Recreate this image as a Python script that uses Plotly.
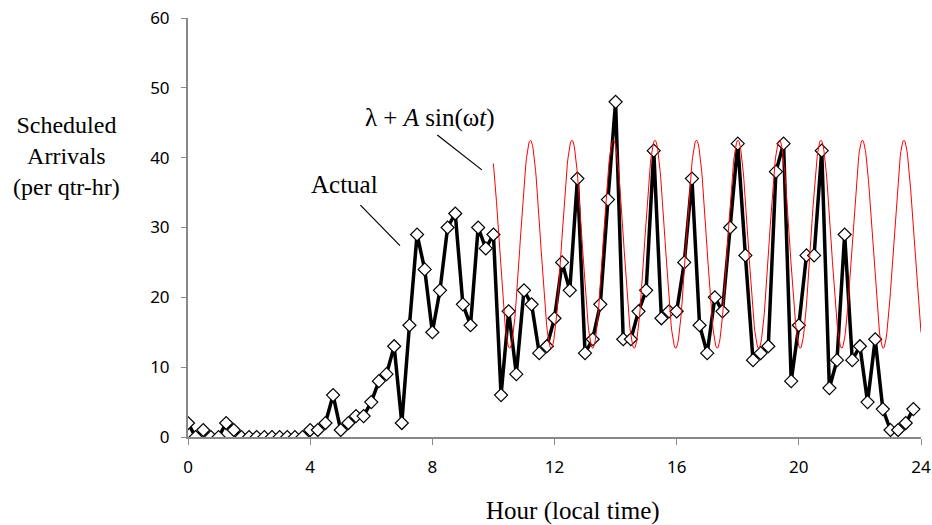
import numpy as np
import plotly.graph_objects as go

# Actual scheduled arrivals per quarter hour (t = 0, 0.25, ..., 23.75)
hours = [i * 0.25 for i in range(96)]
actual = [2, 0, 1, 0, 0, 2, 1, 0, 0, 0, 0, 0, 0, 0, 0, 0,
          1, 1, 2, 6, 1, 2, 3, 3, 5, 8, 9, 13, 2, 16, 29, 24,
          15, 21, 30, 32, 19, 16, 30, 27, 29, 6, 18, 9, 21, 19, 12, 13,
          17, 25, 21, 37, 12, 14, 19, 34, 48, 14, 14, 18, 21, 41, 17, 18,
          18, 25, 37, 16, 12, 20, 18, 30, 42, 26, 11, 12, 13, 38, 42, 8,
          16, 26, 26, 41, 7, 11, 29, 11, 13, 5, 14, 4, 1, 1, 2, 4]

# Sinusoidal model parameters: lambda + A sin(w t + phi)
lam = 27.6
amp = 14.9
period_h = 1.359
peak_t = 12.57
t_start, t_end = 10.0, 24.0

t_model = np.linspace(t_start, t_end, 701)
omega = 2 * np.pi / period_h
model = lam + amp * np.cos(omega * (t_model - peak_t))

x_ticks = [0, 4, 8, 12, 16, 20, 24]
y_ticks = [0, 10, 20, 30, 40, 50, 60]

serif = "Liberation Serif, Times New Roman, serif"
tickfont = dict(family="Noto Sans, Open Sans, sans-serif", size=17, color="#000")

fig = go.Figure()
fig.add_trace(go.Scatter(
    x=hours, y=actual, mode="lines+markers",
    line=dict(color="black", width=3.5),
    marker=dict(symbol="diamond", size=10, color="white",
                line=dict(color="black", width=1.2)),
    showlegend=False, hoverinfo="x+y"))
fig.add_trace(go.Scatter(
    x=t_model, y=model, mode="lines",
    line=dict(color="#ff0000", width=1),
    showlegend=False, hoverinfo="skip"))

fig.update_layout(
    width=932, height=525,
    margin=dict(l=188, r=11, t=18, b=88),
    plot_bgcolor="white", paper_bgcolor="white",
    xaxis=dict(range=[0, 24], tickvals=x_ticks, showgrid=False, zeroline=False,
               showline=True, linecolor="#888", linewidth=2, automargin=False,
               ticks="outside", ticklen=6, tickcolor="#888", tickwidth=1,
               tickfont=tickfont, ticklabelstandoff=8),
    yaxis=dict(range=[0, 60], tickvals=y_ticks, showgrid=False, zeroline=False,
               showline=True, linecolor="#888", linewidth=2, automargin=False,
               ticks="outside", ticklen=5, tickcolor="#888", tickwidth=1,
               tickfont=tickfont, ticklabelstandoff=8),
    annotations=[
        dict(text="Hour (local time)", xref="paper", yref="paper",
             x=0.525, y=0, yshift=-74, showarrow=False,
             font=dict(family=serif, size=25, color="#000"), yanchor="middle"),
        dict(text="Scheduled<br>Arrivals<br>(per qtr-hr)", xref="paper", yref="paper",
             x=-0.166, y=0.671, showarrow=False, align="center",
             font=dict(family=serif, size=24, color="#000"), xanchor="center", yanchor="middle"),
        dict(text="Actual", x=5.14, y=36.1, showarrow=False,
             font=dict(family=serif, size=25, color="#000")),
        dict(text="", x=6.94, y=27.4, ax=-41, ay=-42, showarrow=True,
             arrowhead=0, arrowwidth=1.2, arrowcolor="black"),
        dict(text="λ + <i>A</i> sin(ω<i>t</i>)", x=7.92, y=45.7, showarrow=False,
             font=dict(family=serif, size=25, color="#000")),
        dict(text="", x=9.62, y=38.25, ax=-46, ay=-36, showarrow=True,
             arrowhead=0, arrowwidth=1.2, arrowcolor="black"),
    ],
)

fig.write_html("out.html")
